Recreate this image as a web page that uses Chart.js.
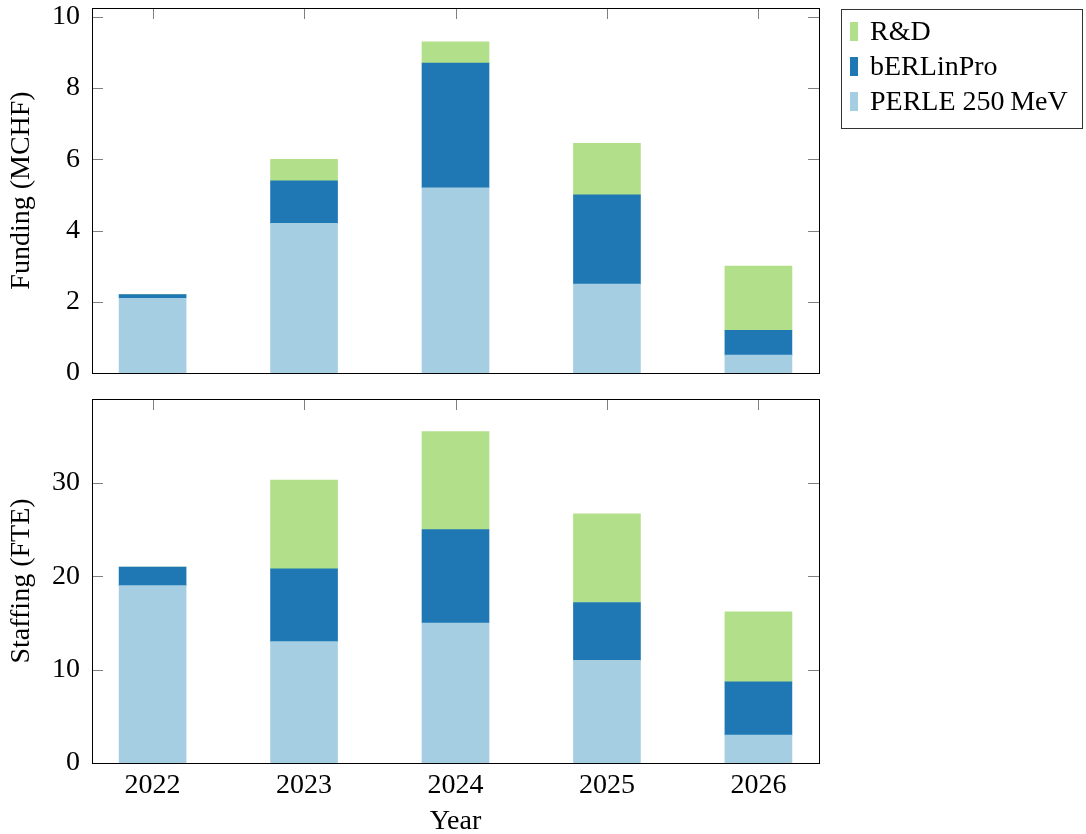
<!DOCTYPE html>
<html>
<head>
<meta charset="utf-8">
<script src="https://cdn.jsdelivr.net/npm/chart.js@4.4.1/dist/chart.umd.min.js"></script>
<style>
  body { margin: 0; background: #fff; }
  .wrap { position: relative; width: 1086px; height: 834px; }
  canvas { position: absolute; left: 0; }
  #fundingChart { top: 0; }
  #staffChart { top: 390px; }
  .legend {
    position: absolute; left: 841px; top: 9px; width: 240px; height: 115px;
    border: 1px solid #333; box-sizing: content-box;
    font-family: "Liberation Serif", serif; font-size: 28px; color: #000;
    padding-top: 3px;
  }
  .legend .row { height: 35px; line-height: 35px; white-space: nowrap; }
  .legend .sw { display: inline-block; width: 8px; height: 19px; margin: 0 12px 0 8px; vertical-align: -1px; }
</style>
</head>
<body>
<div class="wrap">
  <canvas id="fundingChart" width="1086" height="390"></canvas>
  <canvas id="staffChart" width="1086" height="444"></canvas>
  <div class="legend" id="legend"></div>
</div>
<script>
// Datos
const years = [2022, 2023, 2024, 2025, 2026];
const seriesNames = ['PERLE 250\u2009MeV', 'bERLinPro', 'R&D'];
const seriesColors = ['#a6cee3', '#1f78b4', '#b2df8a'];

const fundingPerle = [2.1, 4.2, 5.2, 2.5, 0.5];
const fundingBerlinpro = [0.1, 1.2, 3.5, 2.5, 0.7];
const fundingRnd = [0, 0.6, 0.6, 1.45, 1.8];

const staffPerle = [19, 13, 15, 11, 3];
const staffBerlinpro = [2, 7.8, 10, 6.2, 5.7];
const staffRnd = [0, 9.5, 10.5, 9.5, 7.5];

const fundingTicks = [0, 2, 4, 6, 8, 10];
const staffTicks = [0, 10, 20, 30];

Chart.defaults.font.family = '"Liberation Serif", serif';
Chart.defaults.font.size = 28;
Chart.defaults.color = '#000';

const toPoints = arr => arr.map((v, i) => ({ x: years[i], y: v }));

function makeDatasets(perle, berlin, rnd) {
    return [perle, berlin, rnd].map((d, i) => ({
        label: seriesNames[i],
        data: toPoints(d),
        backgroundColor: seriesColors[i],
        borderWidth: 0,
        barThickness: 67,
        stack: 'total'
    }));
}

// Marco y marcas hacia adentro (estilo pgfplots)
const framePlugin = {
    id: 'frame',
    beforeDatasetsDraw(chart) {
        const ctx = chart.ctx;
        const a = chart.chartArea;
        const xs = chart.scales.x, ys = chart.scales.y;
        const len = 11;
        ctx.save();
        ctx.strokeStyle = '#808080';
        ctx.lineWidth = 1;
        ctx.beginPath();
        ys.ticks.forEach(t => {
            const y = Math.round(ys.getPixelForValue(t.value)) + 0.5;
            ctx.moveTo(a.left, y); ctx.lineTo(a.left + len, y);
            ctx.moveTo(a.right, y); ctx.lineTo(a.right - len, y);
        });
        xs.ticks.forEach(t => {
            const x = Math.round(xs.getPixelForValue(t.value)) + 0.5;
            ctx.moveTo(x, a.top); ctx.lineTo(x, a.top + len);
            ctx.moveTo(x, a.bottom); ctx.lineTo(x, a.bottom - len);
        });
        ctx.stroke();
        ctx.strokeStyle = '#000';
        ctx.strokeRect(Math.round(a.left) + 0.5, Math.round(a.top) + 0.5,
            Math.round(a.right - a.left), Math.round(a.bottom - a.top));
        ctx.restore();
    }
};

function makeOptions(yMax, yTicks, yTitle, xHeight, showX, padTop) {
    return {
        responsive: false,
        animation: false,
        devicePixelRatio: 1,
        layout: { padding: { left: 0, right: 267, top: padTop, bottom: 0 } },
        plugins: { legend: { display: false }, tooltip: { enabled: false } },
        scales: {
            x: {
                type: 'linear',
                offset: false,
                min: 2021.6,
                max: 2026.4,
                grid: { display: false, drawTicks: false },
                border: { display: false },
                afterBuildTicks: s => { s.ticks = years.map(v => ({ value: v })); },
                ticks: {
                    display: showX,
                    padding: 6,
                    maxRotation: 0,
                    callback: v => String(v)
                },
                title: {
                    display: showX,
                    text: 'Year',
                    font: { size: 28, lineHeight: 0.9 },
                    padding: 0
                },
                afterFit: s => {
                    s.height = xHeight;
                    s.paddingLeft = 0; s.paddingRight = 0;
                }
            },
            y: {
                min: 0,
                max: yMax,
                grid: { display: false, drawTicks: false },
                border: { display: false },
                afterBuildTicks: s => { s.ticks = yTicks.map(v => ({ value: v })); },
                ticks: { padding: 12 },
                title: {
                    display: true,
                    text: yTitle,
                    padding: { top: 5, bottom: 0 }
                },
                afterFit: s => {
                    s.width = 92;
                    s.paddingTop = 0; s.paddingBottom = 0;
                }
            }
        }
    };
}

const fundingChart = new Chart(document.getElementById('fundingChart').getContext('2d'), {
    type: 'bar',
    data: { datasets: makeDatasets(fundingPerle, fundingBerlinpro, fundingRnd) },
    options: makeOptions(10.25, fundingTicks, 'Funding (MCHF)', 17, false, 8),
    plugins: [framePlugin]
});

new Chart(document.getElementById('staffChart').getContext('2d'), {
    type: 'bar',
    data: { datasets: makeDatasets(staffPerle, staffBerlinpro, staffRnd) },
    options: makeOptions(39, staffTicks, 'Staffing (FTE)', 71, true, 9),
    plugins: [framePlugin]
});

// Leyenda (orden inverso, como en la figura)
const legend = document.getElementById('legend');
fundingChart.data.datasets.slice().reverse().forEach(ds => {
    const row = document.createElement('div');
    row.className = 'row';
    const sw = document.createElement('span');
    sw.className = 'sw';
    sw.style.background = ds.backgroundColor;
    row.appendChild(sw);
    row.appendChild(document.createTextNode(ds.label));
    legend.appendChild(row);
});
</script>
</body>
</html>
